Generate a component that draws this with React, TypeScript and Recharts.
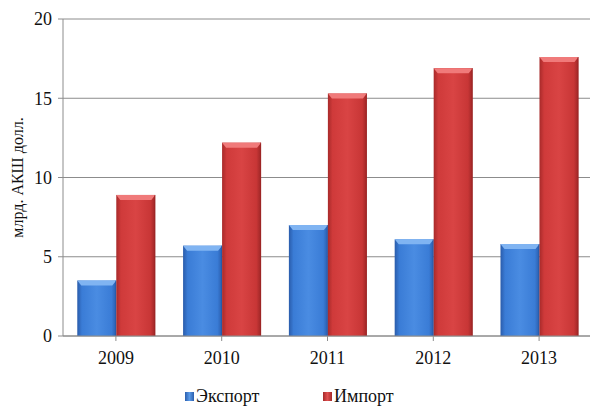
import React from "react";
import { BarChart, Bar, XAxis, YAxis, CartesianGrid, Legend, Label } from "recharts";

const years = ["2009", "2010", "2011", "2012", "2013"];
const exportValues = [3.5, 5.7, 7.0, 6.1, 5.8];
const importValues = [8.9, 12.2, 15.3, 16.9, 17.6];
const yTicks = [0, 5, 10, 15, 20];
const seriesNames = ["Экспорт", "Импорт"];

const data = years.map((y, i) => ({ year: y, exp: exportValues[i], imp: importValues[i] }));

const FONT = "'Liberation Serif', 'Times New Roman', serif";

const palette: Record<string, { cap: string; grad: string; dark: string }> = {
  exp: { cap: "#80b4f2", grad: "gradExp", dark: "#2656a0" },
  imp: { cap: "#f07a7a", grad: "gradImp", dark: "#9c2424" },
};

const BevelBar = (props: any) => {
  const { x, y, width, height, kind } = props;
  if (!height || height <= 0) return null;
  const p = palette[kind];
  const b = Math.min(4, width / 4);
  return (
    <g>
      <rect x={x} y={y} width={width} height={height} fill={`url(#${p.grad})`} />
      <polygon
        points={`${x},${y} ${x + width},${y} ${x + width - b},${y + b + 1} ${x + b},${y + b + 1}`}
        fill={p.cap}
      />
      <rect x={x + width - 1} y={y} width={1} height={height} fill={p.dark} opacity={0.6} />
    </g>
  );
};

const LegendContent = () => (
  <div style={{ position: "relative", height: 30, fontFamily: FONT, fontSize: 18, color: "#111" }}>
    <div style={{ position: "absolute", left: 185, top: 11, display: "flex", alignItems: "center", lineHeight: "16px", height: 16 }}>
      <span style={{ display: "inline-block", width: 9, height: 9, background: "linear-gradient(90deg,#2b5fae,#5a9ae8,#2b5fae)", marginRight: 2 }} />
      <span>{seriesNames[0]}</span>
    </div>
    <div style={{ position: "absolute", left: 323, top: 11, display: "flex", alignItems: "center", lineHeight: "16px", height: 16 }}>
      <span style={{ display: "inline-block", width: 9, height: 9, background: "linear-gradient(90deg,#a52a2a,#e05050,#a52a2a)", marginRight: 2 }} />
      <span>{seriesNames[1]}</span>
    </div>
  </div>
);

export default function App() {
  return (
    <div style={{ position: "absolute", left: 0, top: 0, width: 590, height: 407, overflow: "hidden", background: "#fff" }}>
      <BarChart
        width={600}
        height={407}
        data={data}
        margin={{ top: 19, right: 8, bottom: 0, left: 0 }}
        barCategoryGap="13.5%"
        barGap={0}
      >
        <defs>
          <linearGradient id="gradExp" x1="0" y1="0" x2="1" y2="0">
            <stop offset="0%" stopColor="#2a5cab" />
            <stop offset="12%" stopColor="#3a7cd6" />
            <stop offset="50%" stopColor="#4a8ce2" />
            <stop offset="88%" stopColor="#3a7cd6" />
            <stop offset="100%" stopColor="#2a5cab" />
          </linearGradient>
          <linearGradient id="gradImp" x1="0" y1="0" x2="1" y2="0">
            <stop offset="0%" stopColor="#a82a2a" />
            <stop offset="12%" stopColor="#cf3a3a" />
            <stop offset="50%" stopColor="#d94444" />
            <stop offset="88%" stopColor="#c83636" />
            <stop offset="100%" stopColor="#9c2626" />
          </linearGradient>
        </defs>
        <CartesianGrid vertical={false} stroke="#8c8c8c" strokeWidth={1} />
        <XAxis
          dataKey="year"
          height={41}
          stroke="#8c8c8c"
          tickLine={{ stroke: "#8c8c8c" }}
          tickSize={5}
          tick={{ fill: "#111", fontFamily: FONT, fontSize: 18, dy: 8 }}
          interval={0}
          scale="band"
        />
        <YAxis
          width={63}
          domain={[0, 20]}
          ticks={yTicks}
          stroke="#8c8c8c"
          tickSize={5}
          tickLine={{ stroke: "#8c8c8c" }}
          tick={{ fill: "#111", fontFamily: FONT, fontSize: 18, dx: -4 }}
          axisLine={{ stroke: "#8c8c8c" }}
        >
          <Label
            value="млрд. АКШ долл."
            angle={-90}
            position="insideLeft"
            offset={17}
            style={{ textAnchor: "middle", fontFamily: FONT, fontSize: 16, fill: "#111" }}
          />
        </YAxis>
        <Legend verticalAlign="bottom" height={30} content={<LegendContent />} />
        <Bar dataKey="exp" name={seriesNames[0]} isAnimationActive={false} shape={(p: any) => <BevelBar {...p} kind="exp" />} />
        <Bar dataKey="imp" name={seriesNames[1]} isAnimationActive={false} shape={(p: any) => <BevelBar {...p} kind="imp" />} />
      </BarChart>
    </div>
  );
}
